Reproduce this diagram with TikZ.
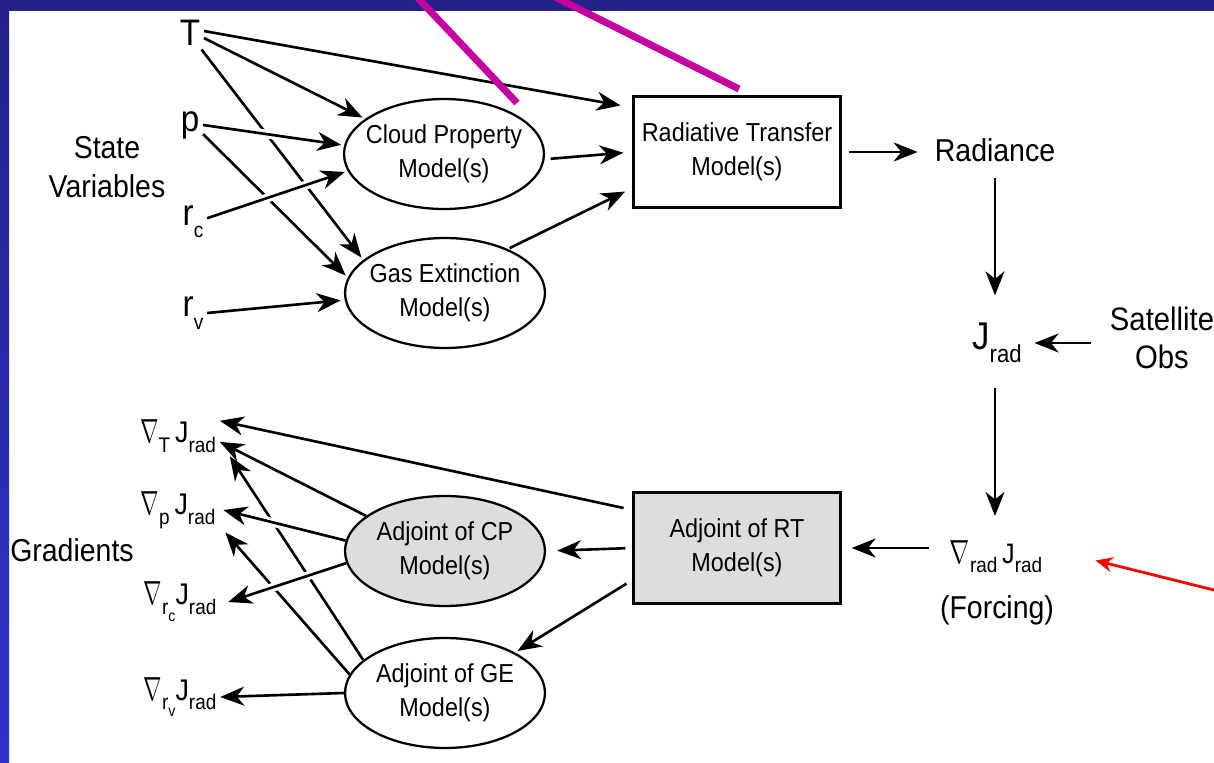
\documentclass[tikz,border=0pt]{standalone}
\usepackage{graphicx}
\usepackage{fontspec}
\setmainfont{Liberation Sans}[FakeStretch=0.9]
\usetikzlibrary{arrows.meta,shapes.geometric}
\definecolor{navy}{RGB}{34,34,136}
\definecolor{slideblue}{RGB}{50,50,204}
\definecolor{pointer}{RGB}{198,0,158}
\definecolor{adjgray}{RGB}{221,221,221}
\newcommand{\nab}[1][10.5pt]{\resizebox{#1}{13pt}{$\nabla$}}
\newcommand{\lo}[2][12]{\raisebox{-0.33em}{\fontsize{#1}{#1}\selectfont #2}}
\newcommand{\twoline}[2]{\makebox[0pt]{\begin{tabular}{@{}c@{}}#1\\#2\end{tabular}}}
\tikzset{
    arr/.style={-{Stealth[length=0.48cm,width=0.38cm,inset=0.15cm]}, line width=1.5pt},
    gapped/.style={preaction={draw, white, line width=5pt, -, shorten >=0.5cm, shorten <=0.3cm}},
    model/.style={ellipse, draw, line width=1.3pt, fill=white, inner sep=0pt,
        minimum width=4cm, minimum height=2.2cm, font=\fontsize{14.8}{19.5}\selectfont},
    modelbox/.style={rectangle, draw, line width=1.3pt, fill=white, inner sep=0pt,
        minimum width=4.14cm, minimum height=2.22cm, font=\fontsize{14.8}{19.5}\selectfont},
    bigtext/.style={align=center, font=\fontsize{18}{22}\selectfont},
    var/.style={font=\fontsize{21}{21}\selectfont, inner sep=2pt},
    grad/.style={font=\fontsize{17}{17}\selectfont, inner sep=2pt},
    pointerline/.style={pointer, line width=4pt},
}

\begin{document}
\begin{tikzpicture}[x=0.02cm, y=-0.02cm]
    % slide frame
    \useasboundingbox (0,0) rectangle (1214,763);
    \fill[white] (0,0) rectangle (1214,763);
    \shade[top color=navy, bottom color=slideblue] (0,0) rectangle (9,763);
    \fill[navy] (0,0) rectangle (1214,11);

    % forward part
    \node[var] (T) at (190,33) {T};
    \node[var] (p) at (190,125) {p};
    \node[var] (rc) at (193,222) {r\lo{c}};
    \node[var] (rv) at (193,313) {r\lo{v}};
    \node[bigtext] (state) at (107,167) {State\\Variables};
    \node[model] (CP) at (444,154) {\twoline{Cloud Property}{Model(s)}};
    \node[model] (GE) at (445,293) {\twoline{Gas Extinction}{Model(s)}};
    \node[modelbox] (RT) at (737,152) {\twoline{Radiative Transfer}{Model(s)}};
    \node[bigtext] (rad) at (995,150) {Radiance};
    \node[var, font=\fontsize{22}{22}\selectfont] (J) at (997,343) {J\lo[14]{rad}};
    \node[bigtext, font=\fontsize{18.5}{22}\selectfont] (sat) at (1162,338) {Satellite\\Obs};

    % adjoint part
    \node[grad, font=\fontsize{16}{16}\selectfont] (F) at (996,557) {\nab[11.5pt]\lo[12]{rad}\,J\lo[12]{rad}};
    \node[bigtext] (forcing) at (997,610) {(Forcing)};
    \node[modelbox, fill=adjgray] (ART) at (737,548) {\twoline{Adjoint of RT}{Model(s)}};
    \node[model, fill=adjgray] (ACP) at (445,551) {\twoline{Adjoint of CP}{Model(s)}};
    \node[model] (AGE) at (445,693) {\twoline{Adjoint of GE}{Model(s)}};
    \node[bigtext] (gradients) at (72,550) {Gradients};
    \node[grad] (gT) at (178,436) {\nab\lo{T}\,J\lo{rad}};
    \node[grad] (gp) at (178,510) {\nab\lo{p}\,J\lo{rad}};
    \node[grad] (grc) at (180,602) {\nab\lo{r\lo[9]{c}}J\lo{rad}};
    \node[grad] (grv) at (180,697) {\nab\lo{r\lo[9]{v}}J\lo{rad}};

    % state variables into the models
    \draw[arr, shorten >=0.24cm] (T.8) -- (RT.157);
    \draw[arr, shorten >=0.06cm] (T.-20) -- (CP.156);
    \draw[arr, shorten >=0.06cm] (T.-55) -- (GE.158);
    \draw[arr, shorten >=0.06cm] (p.-35) -- (GE.171);
    \draw[arr, gapped, shorten >=0.06cm] (p.east) -- (CP.175);
    \draw[arr, gapped, shorten >=0.06cm] (rc.15) -- (CP.190);
    \draw[arr, shorten >=0.08cm] (rv.east) -- (GE.184);
    \draw[arr, shorten <=0.12cm, shorten >=0.18cm] (CP.357) -- (RT.west);
    \draw[arr, shorten <=0.04cm, shorten >=0.16cm] (GE.35) -- (RT.199);
    \draw[arr, shorten <=0.14cm, shorten >=0.22cm] (RT.east) -- (RT.east -| rad.west);
    \draw[arr, shorten <=0.2cm, shorten >=0.48cm] (rad.south) -- (rad.south |- J.north);
    \draw[arr, shorten <=0.26cm, shorten >=0.18cm] (sat.west |- J) -- (J.east);
    \draw[arr, shorten <=0.42cm, shorten >=0.42cm] (J.south -| rad.south) -- (rad.south |- F.north);

    % adjoint chain
    \draw[arr, shorten <=0.34cm, shorten >=0.2cm] (F.west |- ART.east) -- (ART.east);
    \draw[arr, shorten <=0.14cm, shorten >=0.22cm] (ART.west) -- (ACP.east);
    \draw[arr, shorten <=0.14cm, shorten >=0.06cm] (ART.197) -- (AGE.30);
    \draw[arr, shorten <=0.18cm] (ART.160) -- (gT.20);
    \draw[arr] (ACP.156) -- (gT.-8);
    \draw[arr] (AGE.158) -- ([shift={(10,0)}]gT.south east);
    \draw[arr] (AGE.169) -- ([shift={(6,0)}]gp.south east);
    \draw[arr, gapped] (ACP.174) -- ([shift={(4,0)}]gp.east);
    \draw[arr, gapped] (ACP.187) -- ([shift={(8,0)}]grc.east);
    \draw[arr] (AGE.west) -- (grv.east);

    % pointers laid over the slide
    \coordinate (ptrA) at (416,-4);
    \coordinate (ptrAend) at (517,103);
    \coordinate (ptrB) at (553,-4);
    \coordinate (ptrBend) at (739,89);
    \draw[pointerline] (ptrA) -- (ptrAend);
    \draw[pointerline] (ptrB) -- (ptrBend);
    \coordinate (redtail) at (1230,594);
    \draw[red, line width=1.6pt, -{Stealth[length=0.34cm,width=0.3cm]}, shorten >=1.02cm] (redtail) -- (F.10);
\end{tikzpicture}
\end{document}
